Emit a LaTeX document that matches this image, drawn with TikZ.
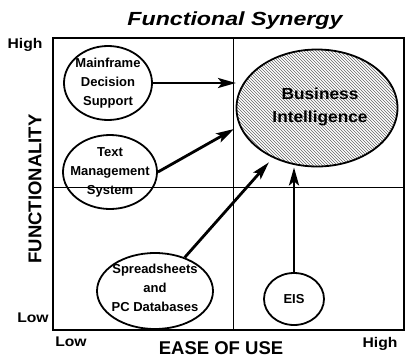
\documentclass[tikz,border=0pt]{standalone}
\usepackage{fontspec}
\setmainfont{Liberation Sans}
\usetikzlibrary{shapes.geometric,arrows.meta,patterns}
\begin{document}
\begin{tikzpicture}[x=1pt,y=-1pt,
  oval/.style={ellipse,draw,line width=1.8pt,inner sep=0pt},
  ovaltext/.style={align=center,inner sep=0pt,font=\bfseries\fontsize{13}{19}\selectfont},
  arr/.style={line width=2.8pt,-{Stealth[length=18pt,width=10pt,inset=4pt]}},
  axlab/.style={font=\bfseries\fontsize{18.5}{20}\selectfont},
  endlab/.style={font=\bfseries\fontsize{14}{16}\selectfont,xscale=1.12}]
\useasboundingbox (0,0) rectangle (405,359);
% frame and dividers
\draw[line width=1.6pt] (53,38) rectangle (404,330);
\draw[line width=0.9pt] (233,38) -- (233,330);
\draw[line width=0.9pt] (53,187) -- (404,187);
% title and axis labels
\node[font=\bfseries\itshape\fontsize{19}{20}\selectfont,xscale=1.22] (title) at (235,21) {Functional Synergy};
\node[endlab] (hi) at (25,45) {High};
\node[endlab] (lo) at (33,318) {Low};
\node[endlab] (xlo) at (71,342) {Low};
\node[endlab] (xhi) at (380,344) {High};
\node[axlab] (xl) at (221,348) {EASE OF USE};
\node[axlab,rotate=90] (yl) at (35,189) {FUNCTIONALITY};
% ovals
\node[oval,pattern=north west lines,pattern color=black!60,
  minimum width=161pt,minimum height=117pt] (bi) at (317,108) {};
\node[align=center,font=\bfseries\fontsize{16}{23}\selectfont,xscale=1.08] (bit) at (320,107) {Business\\Intelligence};
\node[oval,minimum width=88pt,minimum height=74pt] (mf) at (108,83) {};
\node[ovaltext] (mft) at (mf) {Mainframe\\Decision\\Support};
\node[oval,minimum width=94pt,minimum height=74pt] (tm) at (110,172) {};
\node[ovaltext] (tmt) at (tm) {Text\\Management\\System};
\node[oval,minimum width=116pt,minimum height=76pt] (ss) at (155,291) {};
\node[ovaltext] (sst) at (155,288) {Spreadsheets\\and\\PC Databases};
\node[oval,minimum width=60pt,minimum height=52pt] (eis) at (294,299) {};
\node[ovaltext] (eist) at (eis) {EIS};
% arrow tips on the divider
\coordinate (mfend) at (236,83);
\coordinate (tmend) at (234,129);
% arrows
\draw[arr] (mf.east) -- (mfend);
\draw[arr] (tm.east) -- (tmend);
\draw[arr,shorten >=6pt] (ss) -- (bi);
\draw[arr] (eis.north) -- (eis.north |- bi.south);
\end{tikzpicture}
\end{document}
